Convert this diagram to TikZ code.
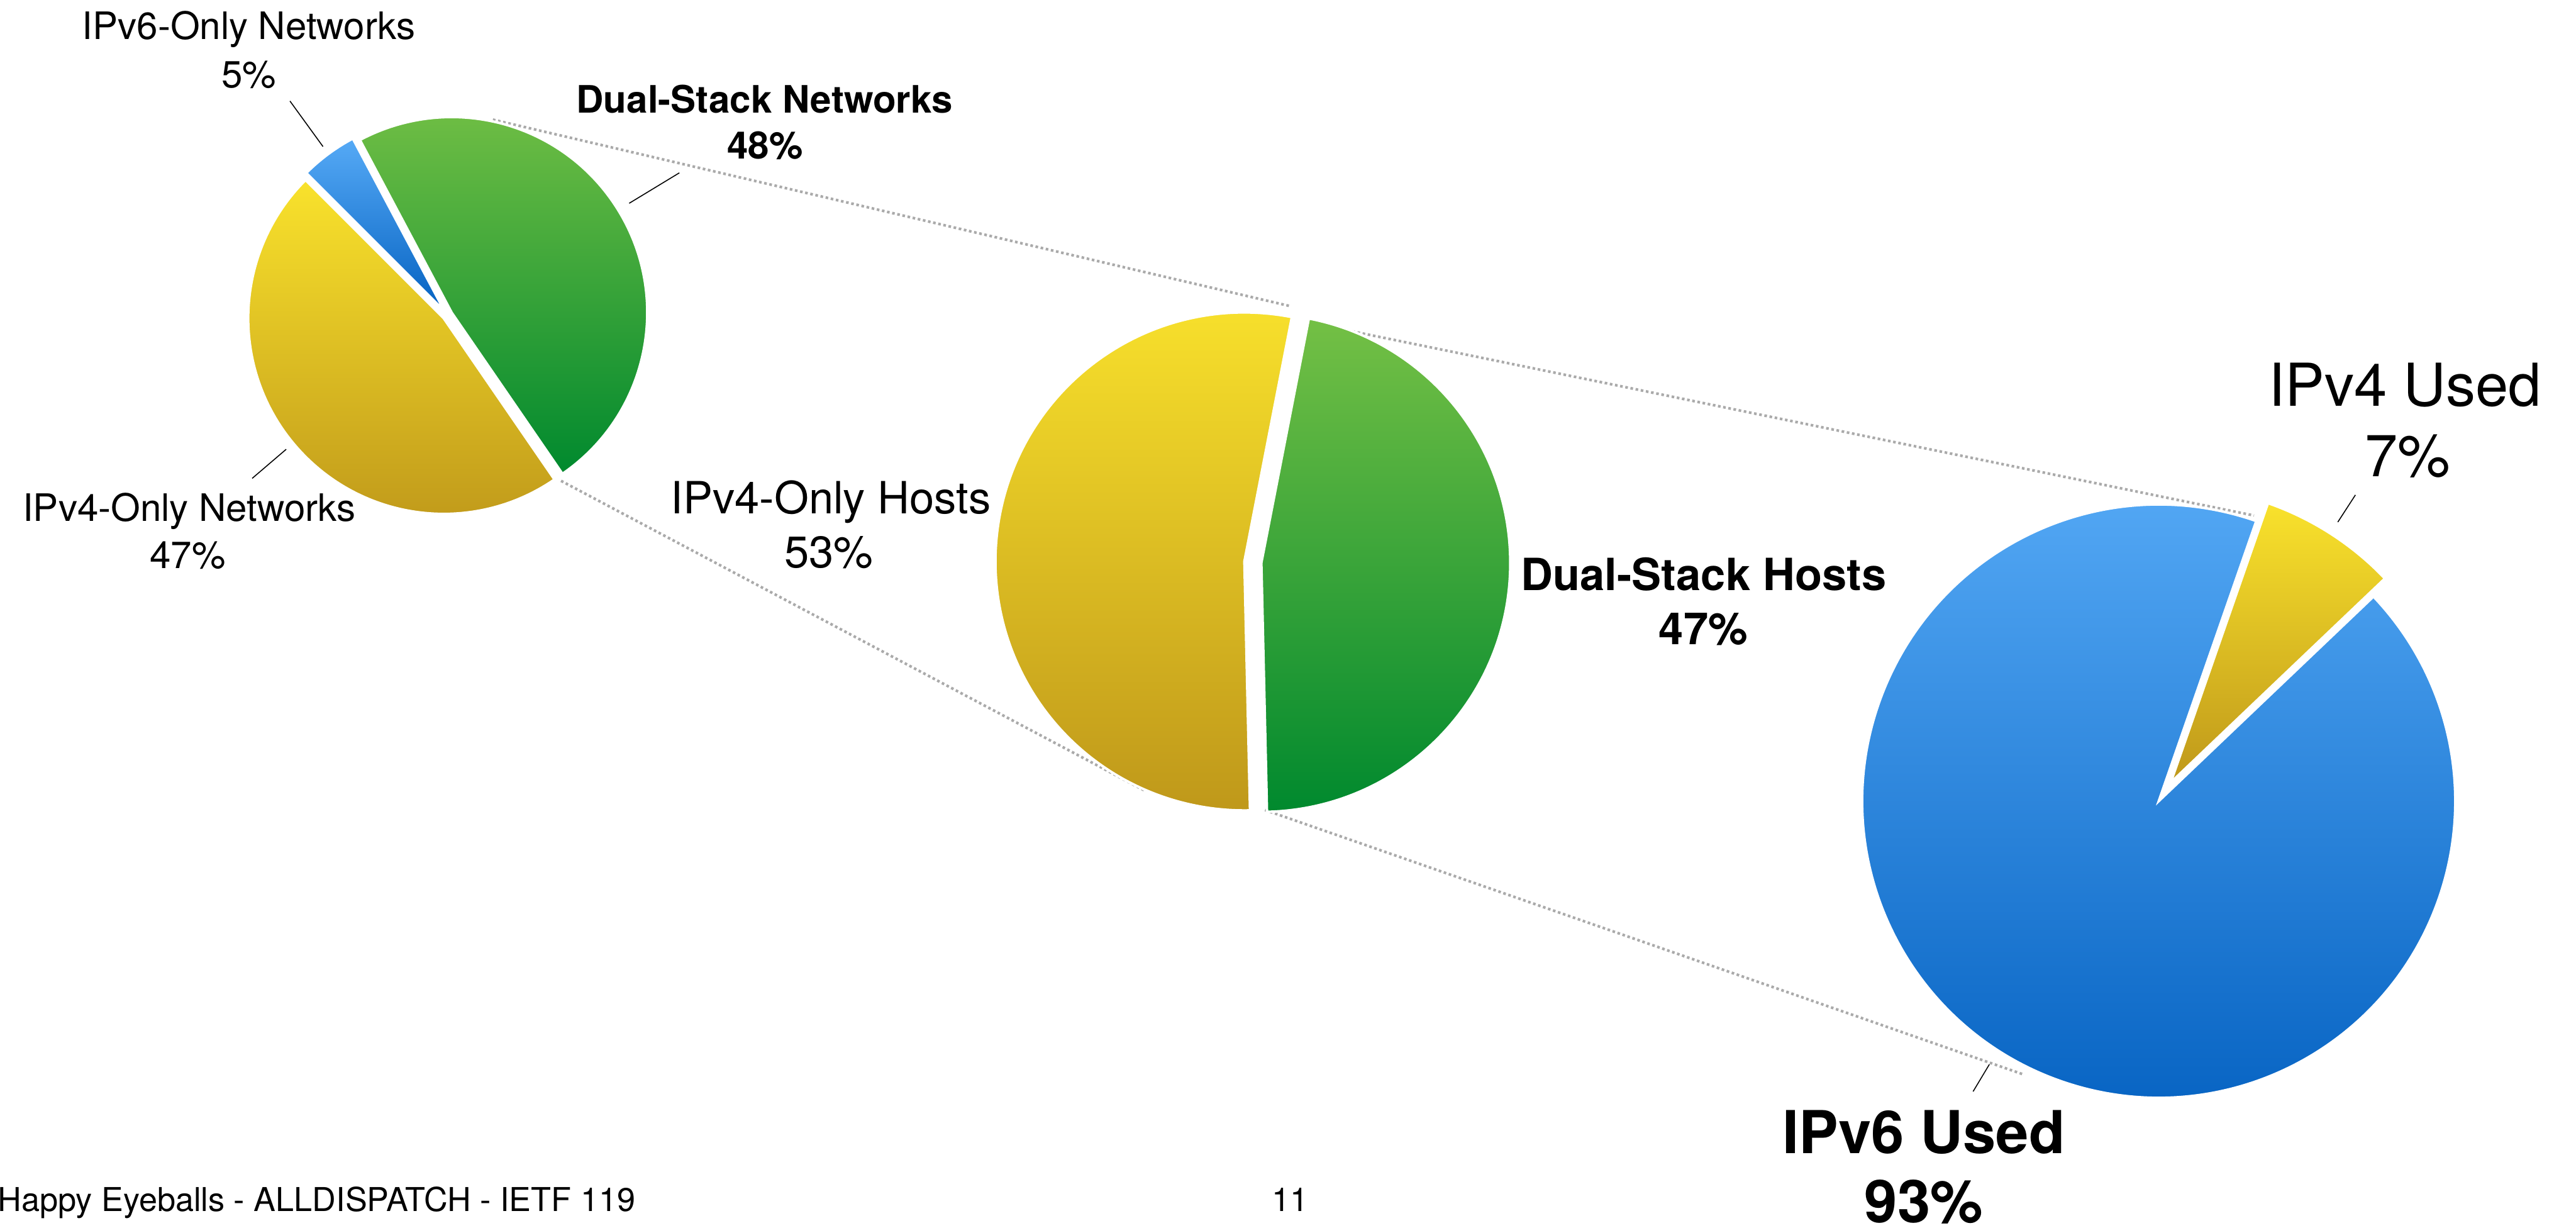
\documentclass[tikz,border=0pt]{standalone}
\usepackage{fontspec}
\setmainfont{TeX Gyre Heros}
\usetikzlibrary{calc}

\definecolor{ylwTop}{HTML}{F9E22C}
\definecolor{ylwBot}{HTML}{BF981A}
\definecolor{grnTop}{HTML}{74C045}
\definecolor{grnBot}{HTML}{00892E}
\definecolor{bluTop}{HTML}{56AAF6}
\definecolor{bluBot}{HTML}{0461C1}
\definecolor{zoomgray}{HTML}{AAAAAA}

\newcommand\netfont{\fontsize{23}{28}\selectfont}
\newcommand\hostfont{\fontsize{27}{32}\selectfont}
\newcommand\usedfont{\fontsize{36}{43}\selectfont}
\newcommand\footfont{\fontsize{20}{24}\selectfont}

% one exploded pie slice: centre, radius, start angle, end angle, explode, fill style, name
\newcommand\pieslice[7]{%
  \path[#6, slicebox] ($(#1)+({(#3+#4)/2}:#5)$) coordinate (#7)
    -- ++(#3:#2) arc[start angle=#3, end angle=#4, radius=#2] -- cycle;}

\tikzset{
  ylw/.style={top color=ylwTop, bottom color=ylwBot},
  grn/.style={top color=grnTop, bottom color=grnBot},
  blu/.style={top color=bluTop, bottom color=bluBot},
  slicebox/.style={draw=white, line width=1.5pt, line join=miter},
  zoomline/.style={draw=zoomgray, line width=1.6pt, dash pattern=on 1.6pt off 1.6pt},
  leader/.style={draw=black, line width=0.6pt},
  lbl/.style={inner sep=0pt, anchor=base},
}

\begin{document}
\begin{tikzpicture}[x=1pt, y=1pt]
\useasboundingbox (0,0) rectangle (1568,747.2);

% pie centres
\coordinate (netpie)  at (272.4,555.4);
\coordinate (hostpie) at (762.6,405.1);
\coordinate (usedpie) at (1314,259.7);

% ends of the dotted zoom lines
\coordinate (z1a) at (300,674.4);   \coordinate (z1b) at (785,561);
\coordinate (z2a) at (804.3,549.4); \coordinate (z2b) at (1372,433.5);
\coordinate (z3a) at (341.5,454.6); \coordinate (z3b) at (697,266);
\coordinate (z4a) at (770,254.3);   \coordinate (z4b) at (1231.6,93.4);

\draw[zoomline] (z1a) -- (z1b);
\draw[zoomline] (z2a) -- (z2b);
\draw[zoomline] (z3a) -- (z3b);
\draw[zoomline] (z4a) -- (z4b);

% networks pie
\pieslice{netpie}{119pt}{-55.5}{118}{3pt}{grn}{dsnet}
\pieslice{netpie}{119pt}{118}{135}{3pt}{blu}{v6net}
\pieslice{netpie}{119pt}{135}{304.5}{3pt}{ylw}{v4net}

% hosts pie
\pieslice{hostpie}{151.5pt}{79}{271.3}{5.2pt}{ylw}{v4host}
\pieslice{hostpie}{151.5pt}{-88.7}{79}{5.2pt}{grn}{dshost}

% used pie
\pieslice{usedpie}{180.5pt}{70.8}{403.6}{0pt}{blu}{v6used}
\pieslice{usedpie}{180pt}{43.6}{70.8}{13.5pt}{ylw}{v4used}

% labels
\node[lbl, font=\netfont] (v6netA) at (151.4,723.1) {IPv6-Only Networks};
\node[lbl, font=\netfont] (v6netB) at (151.5,693.6) {5\%};
\node[lbl, font=\netfont\bfseries] (dsnetA) at (465.3,678.3) {Dual-Stack Networks};
\node[lbl, font=\netfont\bfseries] (dsnetB) at (465.7,650.6) {48\%};
\node[lbl, font=\netfont] (v4netA) at (115.2,430) {IPv4-Only Networks};
\node[lbl, font=\netfont] (v4netB) at (114.2,401.3) {47\%};

\node[lbl, font=\hostfont] (v4hostA) at (505.7,434.5) {IPv4-Only Hosts};
\node[lbl, font=\hostfont] (v4hostB) at (504.5,401.7) {53\%};
\node[lbl, font=\hostfont\bfseries] (dshostA) at (1037,387.9) {Dual-Stack Hosts};
\node[lbl, font=\hostfont\bfseries] (dshostB) at (1036.8,355.1) {47\%};

\node[lbl, font=\usedfont] (v4usedA) at (1464,500) {IPv4 Used};
\node[lbl, font=\usedfont] (v4usedB) at (1465.5,457.4) {7\%};
\node[lbl, font=\usedfont\bfseries] (v6usedA) at (1171,45.5) {IPv6 Used};
\node[lbl, font=\usedfont\bfseries] (v6usedB) at (1171,3.2) {93\%};

% leader lines from labels to slices
\coordinate (l1a) at (176.5,685.7);  \coordinate (l1b) at (196.6,658);
\coordinate (l2a) at (413.5,642);    \coordinate (l2b) at (383,623.5);
\coordinate (l3a) at (174.2,473.8);  \coordinate (l3b) at (153.5,456.1);
\coordinate (l4a) at (1433.7,446);   \coordinate (l4b) at (1423,429.5);
\coordinate (l5a) at (1210.9,99.5);  \coordinate (l5b) at (1201,83);
\draw[leader] (l1a) -- (l1b);
\draw[leader] (l2a) -- (l2b);
\draw[leader] (l3a) -- (l3b);
\draw[leader] (l4a) -- (l4b);
\draw[leader] (l5a) -- (l5b);

% footer
\node[inner sep=0pt, anchor=base west, font=\footfont] (footer) at (-1.5,10.2) {Happy Eyeballs - ALLDISPATCH - IETF 119};
\node[lbl, font=\footfont] (pageno) at (785.5,10.2) {11};
\end{tikzpicture}
\end{document}
